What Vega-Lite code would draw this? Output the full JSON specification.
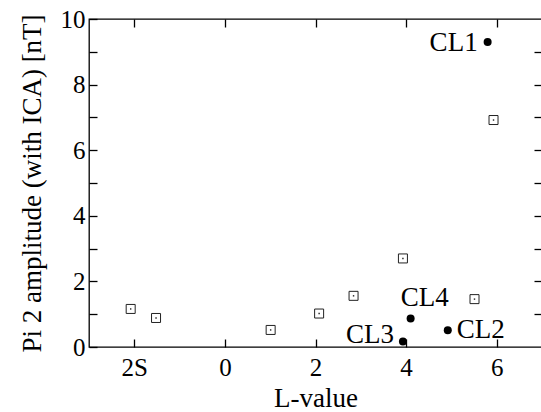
{
  "$schema": "https://vega.github.io/schema/vega-lite/v6.json",
  "width": 453,
  "height": 328,
  "autosize": {"type": "none"},
  "padding": {"left": 89, "top": 19, "right": 0, "bottom": 65},
  "background": "white",
  "config": {
    "view": {"stroke": "black", "strokeWidth": 1.3},
    "font": "Liberation Serif, Times New Roman, serif",
    "text": {"font": "Liberation Serif, Times New Roman, serif"},
    "axis": {
      "domain": false,
      "grid": false,
      "tickColor": "black",
      "tickWidth": 1.3,
      "tickSize": -8,
      "labelFont": "Liberation Serif, Times New Roman, serif",
      "labelFontSize": 25,
      "labelColor": "black",
      "titleFont": "Liberation Serif, Times New Roman, serif",
      "titleFontSize": 27,
      "titleFontWeight": "normal",
      "titleColor": "black"
    }
  },
  "datasets": {
    "pts": [
      {"L": -2.08, "amp": 1.16, "type": "ICA", "name": ""},
      {"L": -1.52, "amp": 0.885, "type": "ICA", "name": ""},
      {"L": 1.01, "amp": 0.52, "type": "ICA", "name": ""},
      {"L": 2.08, "amp": 1.02, "type": "ICA", "name": ""},
      {"L": 2.84, "amp": 1.56, "type": "ICA", "name": ""},
      {"L": 3.93, "amp": 2.7, "type": "ICA", "name": ""},
      {"L": 5.51, "amp": 1.46, "type": "ICA", "name": ""},
      {"L": 5.93, "amp": 6.92, "type": "ICA", "name": ""},
      {"L": 5.8, "amp": 9.3, "type": "CL", "name": "CL1"},
      {"L": 4.92, "amp": 0.51, "type": "CL", "name": "CL2"},
      {"L": 3.93, "amp": 0.17, "type": "CL", "name": "CL3"},
      {"L": 4.1, "amp": 0.87, "type": "CL", "name": "CL4"}
    ]
  },
  "data": {"name": "pts"},
  "resolve": {"axis": {"x": "independent", "y": "independent"}},
  "layer": [
    {
      "transform": [{"filter": "datum.type == 'ICA'"}],
      "mark": {"type": "point", "shape": "square", "size": 81, "filled": false, "stroke": "#222", "strokeWidth": 1, "opacity": 1},
      "encoding": {
        "x": {"field": "L", "type": "quantitative", "scale": {"domain": [-3, 7], "nice": false, "zero": false},
          "axis": {"orient": "bottom", "values": [-2, 0, 2, 4, 6], "labelExpr": "datum.value == -2 ? '2S' : datum.label", "labelPadding": 16, "title": "L-value", "titlePadding": 5}},
        "y": {"field": "amp", "type": "quantitative", "scale": {"domain": [0, 10], "nice": false},
          "axis": {"orient": "left", "values": [0, 1, 2, 3, 4, 5, 6, 7, 8, 9, 10], "labelExpr": "datum.value % 2 == 0 ? datum.label : ''", "labelPadding": 12, "title": "Pi 2 amplitude (with ICA) [nT]", "titlePadding": 14}}
      }
    },
    {
      "transform": [{"filter": "datum.type == 'ICA'"}],
      "mark": {"type": "point", "shape": "square", "size": 2, "filled": true, "color": "#222", "opacity": 1},
      "encoding": {
        "x": {"field": "L", "type": "quantitative", "scale": {"domain": [-3, 7], "nice": false, "zero": false},
          "axis": {"orient": "top", "values": [-2, 0, 2, 4, 6], "labels": false, "title": null}},
        "y": {"field": "amp", "type": "quantitative", "scale": {"domain": [0, 10], "nice": false},
          "axis": {"orient": "right", "values": [1, 2, 3, 4, 5, 6, 7, 8, 9], "labels": false, "title": null}}
      }
    },
    {
      "transform": [{"filter": "datum.type == 'CL'"}],
      "mark": {"type": "circle", "size": 64, "color": "black", "opacity": 1},
      "encoding": {
        "x": {"field": "L", "type": "quantitative", "axis": null},
        "y": {"field": "amp", "type": "quantitative", "axis": null}
      }
    },
    {
      "transform": [{"filter": "datum.name == 'CL1'"}],
      "mark": {"type": "text", "align": "right", "baseline": "middle", "dx": -10, "dy": 1, "fontSize": 27, "color": "black"},
      "encoding": {
        "x": {"field": "L", "type": "quantitative", "axis": null},
        "y": {"field": "amp", "type": "quantitative", "axis": null},
        "text": {"field": "name"}
      }
    },
    {
      "transform": [{"filter": "datum.name == 'CL2'"}],
      "mark": {"type": "text", "align": "left", "baseline": "middle", "dx": 9, "dy": 0, "fontSize": 27, "color": "black"},
      "encoding": {
        "x": {"field": "L", "type": "quantitative", "axis": null},
        "y": {"field": "amp", "type": "quantitative", "axis": null},
        "text": {"field": "name"}
      }
    },
    {
      "transform": [{"filter": "datum.name == 'CL3'"}],
      "mark": {"type": "text", "align": "right", "baseline": "middle", "dx": -9, "dy": -6, "fontSize": 27, "color": "black"},
      "encoding": {
        "x": {"field": "L", "type": "quantitative", "axis": null},
        "y": {"field": "amp", "type": "quantitative", "axis": null},
        "text": {"field": "name"}
      }
    },
    {
      "transform": [{"filter": "datum.name == 'CL4'"}],
      "mark": {"type": "text", "align": "center", "baseline": "middle", "dx": 14, "dy": -20, "fontSize": 27, "color": "black"},
      "encoding": {
        "x": {"field": "L", "type": "quantitative", "axis": null},
        "y": {"field": "amp", "type": "quantitative", "axis": null},
        "text": {"field": "name"}
      }
    }
  ]
}
